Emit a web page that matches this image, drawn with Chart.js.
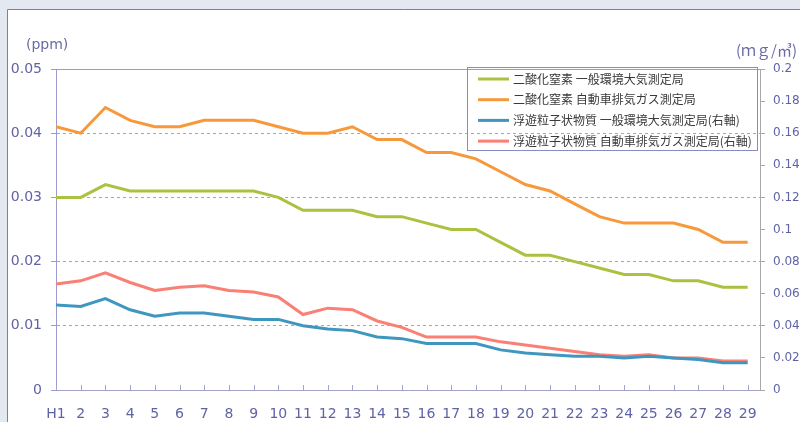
<!DOCTYPE html>
<html lang="ja">
<head>
<meta charset="utf-8">
<script src="https://cdn.jsdelivr.net/npm/chart.js@4"></script>
<style>
  html, body { margin: 0; padding: 0; background: #fff; }
  #wrap { width: 800px; height: 422px; }
</style>
</head>
<body>
<div id="wrap"><canvas id="airChart" width="800" height="422"></canvas></div>
<script>
// 年度ラベル (平成)
const years = ['H1','2','3','4','5','6','7','8','9','10','11','12','13','14','15',
  '16','17','18','19','20','21','22','23','24','25','26','27','28','29'];

// 二酸化窒素 (ppm, 左軸)
const no2General = [0.030, 0.030, 0.032, 0.031, 0.031, 0.031, 0.031, 0.031, 0.031, 0.030,
  0.028, 0.028, 0.028, 0.027, 0.027, 0.026, 0.025, 0.025, 0.023, 0.021,
  0.021, 0.020, 0.019, 0.018, 0.018, 0.017, 0.017, 0.016, 0.016];
const no2Roadside = [0.041, 0.040, 0.044, 0.042, 0.041, 0.041, 0.042, 0.042, 0.042, 0.041,
  0.040, 0.040, 0.041, 0.039, 0.039, 0.037, 0.037, 0.036, 0.034, 0.032,
  0.031, 0.029, 0.027, 0.026, 0.026, 0.026, 0.025, 0.023, 0.023];

// 浮遊粒子状物質 (mg/m3, 右軸)
const spmGeneral = [0.053, 0.052, 0.057, 0.050, 0.046, 0.048, 0.048, 0.046, 0.044, 0.044,
  0.040, 0.038, 0.037, 0.033, 0.032, 0.029, 0.029, 0.029, 0.025, 0.023,
  0.022, 0.021, 0.021, 0.020, 0.021, 0.020, 0.019, 0.017, 0.017];
const spmRoadside = [0.066, 0.068, 0.073, 0.067, 0.062, 0.064, 0.065, 0.062, 0.061, 0.058,
  0.047, 0.051, 0.050, 0.043, 0.039, 0.033, 0.033, 0.033, 0.030, 0.028,
  0.026, 0.024, 0.022, 0.021, 0.022, 0.020, 0.020, 0.018, 0.018];

const seriesNames = [
  '二酸化窒素 一般環境大気測定局',
  '二酸化窒素 自動車排気ガス測定局',
  '浮遊粒子状物質 一般環境大気測定局(右軸)',
  '浮遊粒子状物質 自動車排気ガス測定局(右軸)'
];
const seriesColors = ['#a9c23f', '#f7993a', '#3f97bf', '#fa7f74'];

const ppmTicks = [0, 0.01, 0.02, 0.03, 0.04, 0.05];
const mgTicks = [0, 0.02, 0.04, 0.06, 0.08, 0.1, 0.12, 0.14, 0.16, 0.18, 0.2];

const numFont = 'DejaVu Sans';
const jpFont = '"Noto Sans CJK JP"';
const tickText = '#5f63a6';

function lineSet(i, values, axis) {
  return {
    label: seriesNames[i],
    data: values.map((v, k) => ({ x: k, y: v })),
    yAxisID: axis,
    borderColor: seriesColors[i],
    backgroundColor: seriesColors[i],
    borderWidth: 3,
    pointRadius: 0,
    tension: 0,
    fill: false
  };
}

function fmt(v) {
  return String(+v.toFixed(3));
}

// 枠・単位・凡例・内向き目盛り
const decor = {
  id: 'decor',
  beforeDraw(chart) {
    const ctx = chart.ctx;
    ctx.save();
    ctx.fillStyle = '#e4e8f1';
    ctx.fillRect(0, 0, chart.width, chart.height);
    ctx.fillStyle = '#ffffff';
    ctx.fillRect(8, 10, chart.width - 8, chart.height - 10);
    ctx.strokeStyle = '#7a7eb8';
    ctx.lineWidth = 1;
    ctx.beginPath();
    ctx.moveTo(7.5, chart.height);
    ctx.lineTo(7.5, 9.5);
    ctx.lineTo(chart.width, 9.5);
    ctx.stroke();
    ctx.restore();
  },
  afterDraw(chart) {
    const ctx = chart.ctx;
    const area = chart.chartArea;
    const x = chart.scales.x;
    ctx.save();

    // 上端線
    ctx.strokeStyle = '#9a9ad0';
    ctx.lineWidth = 1;
    ctx.beginPath();
    ctx.moveTo(area.left, Math.round(area.top) + 0.5);
    ctx.lineTo(area.right, Math.round(area.top) + 0.5);
    ctx.stroke();

    // 横軸の目盛り (内側)
    ctx.strokeStyle = '#a4a4c8';
    ctx.beginPath();
    years.forEach((_, i) => {
      const px = Math.round(x.getPixelForValue(i)) + 0.5;
      ctx.moveTo(px, area.bottom - 5);
      ctx.lineTo(px, area.bottom);
    });
    ctx.stroke();

    // 単位
    ctx.fillStyle = '#6a6aa8';
    ctx.textBaseline = 'middle';
    ctx.font = '14px ' + numFont;
    ctx.textAlign = 'left';
    ctx.fillText('(ppm)', 26, 45);
    ctx.font = '15px ' + jpFont;
    ctx.textAlign = 'right';
    ctx.fillText('(ｍｇ/㎥)', 797, 50);

    // 凡例
    const bx = 467.5, by = 67.5, bw = 290, bh = 83;
    ctx.strokeStyle = '#8a8ac4';
    ctx.strokeRect(bx, by, bw, bh);
    ctx.font = '12px ' + jpFont;
    ctx.textAlign = 'left';
    chart.data.datasets.forEach((ds, i) => {
      const cy = 79 + i * 20.7;
      ctx.strokeStyle = ds.borderColor;
      ctx.lineWidth = 3;
      ctx.beginPath();
      ctx.moveTo(478, cy);
      ctx.lineTo(509, cy);
      ctx.stroke();
      ctx.fillStyle = '#3a3a3a';
      ctx.fillText(ds.label, 513, cy);
    });
    ctx.restore();
  }
};

new Chart(document.getElementById('airChart'), {
  type: 'line',
  data: {
    datasets: [
      lineSet(0, no2General, 'y'),
      lineSet(1, no2Roadside, 'y'),
      lineSet(2, spmGeneral, 'y1'),
      lineSet(3, spmRoadside, 'y1')
    ]
  },
  options: {
    responsive: false,
    animation: false,
    devicePixelRatio: 1,
    layout: { padding: { top: 69, left: 0, right: 0, bottom: 0 } },
    plugins: {
      legend: { display: false },
      tooltip: { enabled: false }
    },
    scales: {
      x: {
        type: 'linear',
        min: 0,
        max: 28.5,
        afterBuildTicks: s => { s.ticks = years.map((_, i) => ({ value: i })); },
        afterFit: s => { s.height = 32; },
        grid: { display: false },
        border: { color: '#a4a4c8', width: 1 },
        ticks: {
          autoSkip: false,
          maxRotation: 0,
          padding: 8,
          color: tickText,
          font: { family: numFont, size: 14 },
          callback: v => years[v]
        }
      },
      y: {
        position: 'left',
        min: 0,
        max: 0.05,
        afterBuildTicks: s => { s.ticks = ppmTicks.map(v => ({ value: v })); },
        afterFit: s => { s.width = 56; },
        grid: {
          color: c => (c.tick && c.tick.value > 0 && c.tick.value < 0.05) ? '#a8a8a8' : 'rgba(0,0,0,0)',
          tickColor: '#9a9ad0',
          tickLength: 5,
          tickBorderDash: []
        },
        border: { color: '#9a9ad0', width: 1, dash: [3, 3] },
        ticks: {
          padding: 9,
          color: tickText,
          font: { family: numFont, size: 14 },
          callback: v => fmt(v)
        }
      },
      y1: {
        position: 'right',
        min: 0,
        max: 0.2,
        afterBuildTicks: s => { s.ticks = mgTicks.map(v => ({ value: v })); },
        afterFit: s => { s.width = 40; },
        grid: {
          drawOnChartArea: false,
          tickColor: '#a8a8a8',
          tickLength: 5
        },
        border: { color: '#a8a8a8', width: 1 },
        ticks: {
          padding: 8,
          color: tickText,
          font: { family: numFont, size: 12 },
          callback: v => fmt(v)
        }
      }
    }
  },
  plugins: [decor]
});
</script>
</body>
</html>
